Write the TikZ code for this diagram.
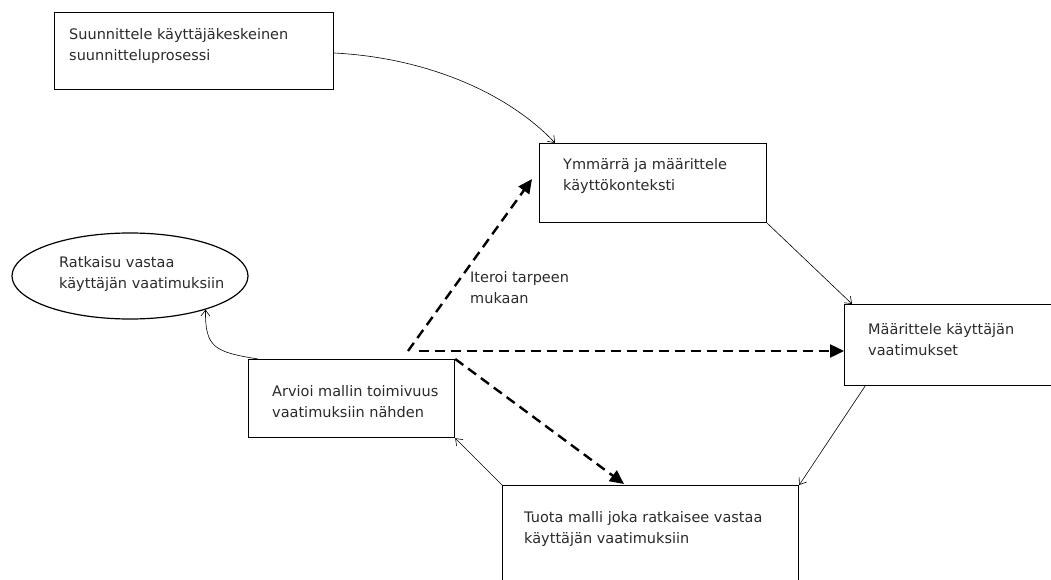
\documentclass[tikz,border=0pt]{standalone}
\usepackage{fontspec}
\setmainfont{DejaVu Sans}
\usetikzlibrary{arrows.meta,calc,shapes.geometric}
\definecolor{txt}{HTML}{2B2B2B}
\tikzset{
  boxnode/.style={draw=black,line width=1.2pt,rectangle,inner sep=0pt,anchor=north west},
  lbl/.style={anchor=north west,align=left,inner sep=0pt,text=txt,font=\fontsize{14.5}{21.5}\selectfont},
  thin arrow/.style={draw=black,line width=0.6pt,-{Straight Barb[length=6pt,width=9pt]}},
  dash arrow/.style={draw=black,line width=2.4pt,dash pattern=on 10pt off 6pt,-{Triangle[length=14pt,width=13pt]}}
}
\begin{document}
\begin{tikzpicture}[x=1pt,y=-1pt]
\useasboundingbox (0,0) rectangle (1051,580);
\fill[white] (0,0) rectangle (1051,580);
\clip (0,0) rectangle (1051,580);
% boxes
\node[boxnode,minimum width=279pt,minimum height=77pt] (A) at (54,12) {};
\node[boxnode,minimum width=227pt,minimum height=79pt] (B) at (539,143) {};
\node[boxnode,minimum width=230pt,minimum height=81pt] (C) at (844,304) {};
\node[boxnode,minimum width=206pt,minimum height=78pt] (D) at (248,359) {};
\node[boxnode,minimum width=296pt,minimum height=120pt] (E) at (502,485) {};
\node[draw=black,line width=1.2pt,ellipse,minimum width=236pt,minimum height=86pt,inner sep=0pt] (S) at (130,276) {};
% texts
\node[lbl] (tA) at (69,28) {Suunnittele käyttäjäkeskeinen\\suunnitteluprosessi};
\node[lbl] (tB) at (563,158) {Ymmärrä ja määrittele\\käyttökonteksti};
\node[lbl] (tC) at (868,323) {Määrittele käyttäjän\\vaatimukset};
\node[lbl] (tD) at (272,385) {Arvioi mallin toimivuus\\vaatimuksiin nähden};
\node[lbl] (tE) at (524,511) {Tuota malli joka ratkaisee vastaa\\käyttäjän vaatimuksiin};
\node[lbl] (tS) at (59,256) {Ratkaisu vastaa\\käyttäjän vaatimuksiin};
\node[lbl] (tI) at (470,271) {Iteroi tarpeen\\mukaan};
% thin connectors
\draw[thin arrow] ($(A.north east)+(0,41)$) .. controls (430,58) and (510,95) .. ($(B.north west)+(16,0)$);
\draw[thin arrow] (B.south east) -- ($(C.north west)+(8,0)$);
\draw[thin arrow] ($(C.south west)+(21,0)$) -- (E.north east);
\draw[thin arrow] (E.north west) -- (D.south east);
\draw[thin arrow] ($(D.north west)+(10,0)$) .. controls (215,352) and (205,348) .. (S.-24);
% dashed connectors
\coordinate (o1) at (408,351);
\coordinate (o2) at (419,351);
\draw[dash arrow] (o1) -- ($(B.west)+(-7,-4)$);
\draw[dash arrow] (o2) -- (C.west |- o2);
\draw[dash arrow] (D.north east) -- ($(E.north west)+(122,-1)$);
\end{tikzpicture}
\end{document}
